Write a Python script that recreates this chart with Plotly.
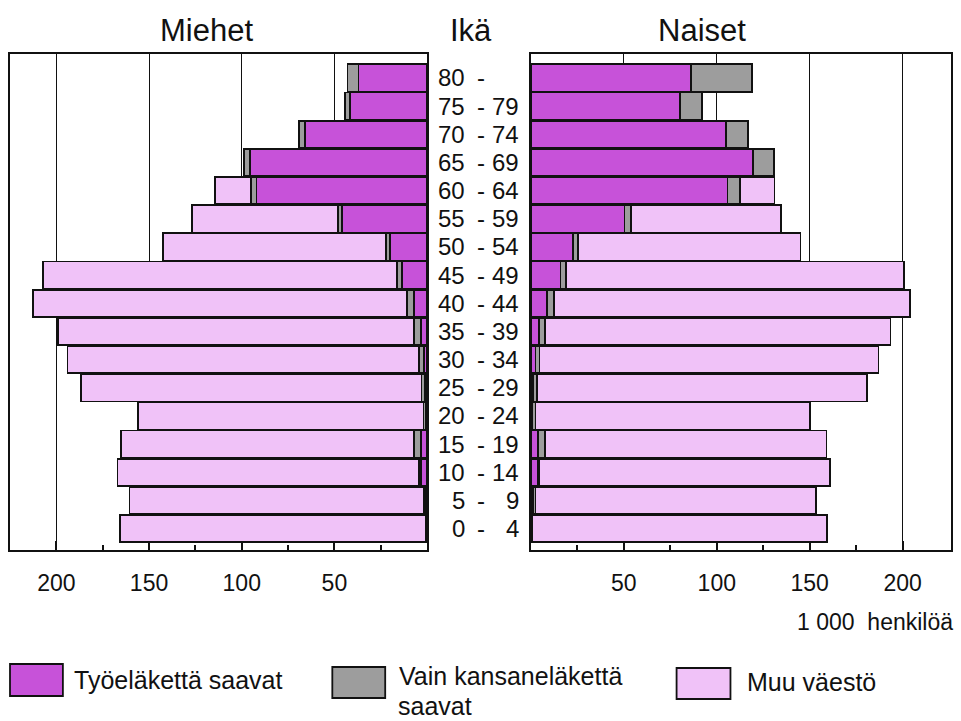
import plotly.graph_objects as go

# age groups, bottom to top
ages = ["0 - 4", "5 - 9", "10 - 14", "15 - 19", "20 - 24", "25 - 29", "30 - 34",
        "35 - 39", "40 - 44", "45 - 49", "50 - 54", "55 - 59", "60 - 64",
        "65 - 69", "70 - 74", "75 - 79", "80 -"]

# 1 000 henkilöä
men_tyo = [0.3, 0.5, 3.4, 3.4, 0.5, 1.0, 1.6, 3.4, 7.0, 13.4, 20.0, 45.7, 92.0, 95.7, 66.0, 41.4, 37.0]
men_kansa = [0.3, 1.0, 1.0, 3.6, 1.5, 2.0, 2.7, 3.6, 4.0, 3.0, 2.0, 2.5, 3.0, 3.2, 3.0, 3.0, 6.0]
men_muu = [165.0, 159.0, 162.6, 158.0, 153.9, 183.6, 189.7, 192.0, 201.4, 190.6, 120.5, 78.8, 19.5, 0, 0, 0, 0]

women_tyo = [0.3, 1.0, 4.0, 4.0, 0.5, 1.0, 2.5, 4.3, 8.8, 15.9, 22.5, 50.4, 105.8, 119.6, 105.0, 80.4, 86.0]
women_kansa = [0.3, 1.5, 0.6, 3.5, 2.0, 2.4, 2.1, 3.2, 3.5, 3.1, 2.9, 3.6, 6.6, 11.2, 12.0, 11.8, 33.0]
women_muu = [158.8, 151.0, 156.1, 151.5, 147.5, 177.5, 182.4, 185.9, 191.7, 181.9, 119.6, 80.4, 18.6, 0, 0, 0, 0]

series_names = ["Työeläkettä saavat", "Vain kansaneläkettä", "Muu väestö"]
colors = ["#c752d9", "#9d9d9d", "#f0c2f8"]

tick_vals = [50, 100, 150, 200]
minor_vals = [25, 75, 125, 175]

FONT = "Liberation Sans, Arial, Helvetica, sans-serif"

# page pixels of the reference; body margin is removed in post_script
W, H = 961, 721
L, R, T, B = 10, 961 - 953, 54, 721 - 550
pw, ph = W - L - R, H - T - B


def px_x(px):
    # reference pixel -> paper x
    return (px - L) / pw


def px_y(py):
    # reference pixel -> paper y
    return (H - B - py) / ph


fig = go.Figure()

men = [men_tyo, men_kansa, men_muu]
women = [women_tyo, women_kansa, women_muu]
for i in range(3):
    fig.add_trace(go.Bar(y=ages, x=[v if v > 0 else None for v in men[i]], orientation="h",
                         xaxis="x", yaxis="y", marker=dict(color=colors[i], line=dict(color="#111", width=1.8)),
                         name=series_names[i], showlegend=False))
    fig.add_trace(go.Bar(y=ages, x=[v if v > 0 else None for v in women[i]], orientation="h",
                         xaxis="x2", yaxis="y2", marker=dict(color=colors[i], line=dict(color="#111", width=1.8)),
                         name=series_names[i], showlegend=False))

xcommon = dict(tickmode="array", tickvals=tick_vals, ticks="inside", ticklen=9, tickwidth=1.5,
               tickcolor="#111", showgrid=True, gridcolor="#111", gridwidth=1.2, zeroline=False,
               showline=True, linecolor="#111", linewidth=1.6, mirror=True,
               tickfont=dict(family=FONT, size=23, color="#111"), ticklabelstandoff=12,
               minor=dict(tickvals=minor_vals, ticks="inside", ticklen=5, tickwidth=1.5,
                          tickcolor="#111", showgrid=False))
ycommon = dict(type="category", categoryorder="array", categoryarray=ages, range=[-0.76, 16.85],
               showticklabels=False, ticks="", showgrid=False, zeroline=False,
               showline=True, linecolor="#111", linewidth=1.6, mirror=True)

fig.update_layout(
    width=W, height=H,
    margin=dict(l=L, r=R, t=T, b=B),
    paper_bgcolor="white", plot_bgcolor="white",
    barmode="stack", bargap=0.03,
    xaxis=dict(domain=[0, px_x(428)], range=[225, 0], anchor="y", **xcommon),
    xaxis2=dict(domain=[px_x(532), 1], range=[0, 226], anchor="y2", **xcommon),
    yaxis=dict(anchor="x", **ycommon),
    yaxis2=dict(anchor="x2", **ycommon),
)

# panel titles
for txt, cx in [("Miehet", 207), ("Ikä", 472), ("Naiset", 703)]:
    fig.add_annotation(text=txt, x=px_x(cx), y=px_y(30), xref="paper", yref="paper",
                       showarrow=False, xanchor="center", yanchor="middle",
                       font=dict(family=FONT, size=31, color="#111"))

# age labels in the middle column
for a in ages:
    parts = a.split(" - ") if " - " in a else [a.replace(" -", ""), ""]
    fig.add_annotation(text=parts[0], x=px_x(468), y=a, xref="paper", yref="y",
                       showarrow=False, xanchor="right", yanchor="middle",
                       font=dict(family=FONT, size=24, color="#111"))
    fig.add_annotation(text="-", x=px_x(482), y=a, xref="paper", yref="y",
                       showarrow=False, xanchor="center", yanchor="middle",
                       font=dict(family=FONT, size=24, color="#111"))
    if parts[1]:
        fig.add_annotation(text=parts[1], x=px_x(522), y=a, xref="paper", yref="y",
                           showarrow=False, xanchor="right", yanchor="middle",
                           font=dict(family=FONT, size=24, color="#111"))

fig.add_annotation(text="1 000  henkilöä", x=px_x(957), y=px_y(622), xref="paper", yref="paper",
                   showarrow=False, xanchor="right", yanchor="middle",
                   font=dict(family=FONT, size=23, color="#111"))

# hand drawn legend boxes
legend_pos = [(10, 664, 63, 696, 72, 680), (333, 667, 386, 698, 398, 676), (678, 668, 732, 699, 747, 682)]
for (x0, y0, x1, y1, tx, ty), name, col in zip(legend_pos, series_names, colors):
    fig.add_shape(type="rect", xref="paper", yref="paper", x0=px_x(x0), x1=px_x(x1),
                  y0=px_y(y1), y1=px_y(y0), fillcolor=col, line=dict(color="#111", width=1.8))
    fig.add_annotation(text=name, x=px_x(tx), y=px_y(ty), xref="paper", yref="paper",
                       showarrow=False, xanchor="left", yanchor="middle", align="left",
                       font=dict(family=FONT, size=25, color="#111"))
# second line of the grey label sits on the bottom edge
fig.add_annotation(text="saavat", x=px_x(398), y=px_y(721), xref="paper", yref="paper",
                   showarrow=False, xanchor="left", yanchor="bottom", align="left", borderpad=0,
                   font=dict(family=FONT, size=25, color="#111"))

fig.write_html("out.html", config={"displayModeBar": False},
               post_script="document.body.style.margin='0';document.body.style.overflow='hidden';")
